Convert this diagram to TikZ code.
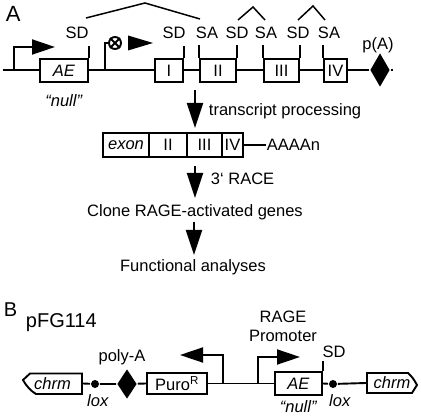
\documentclass[tikz,border=0pt]{standalone}
\usepackage{fontspec}
\setmainfont{Liberation Sans}
\usetikzlibrary{shapes.geometric,arrows.meta}
\newcommand\fsz{\fontsize{16.5}{19}\selectfont}
\begin{document}
\begin{tikzpicture}[x=1pt,y=-1pt,line width=1.9pt,
  every node/.style={font=\fsz,inner sep=0pt},
  box/.style={draw,fill=white,minimum height=23pt},
  dtip/.style={-{Triangle[length=25pt,width=16pt]}},
  ptip/.style={-{Triangle[length=23pt,width=15pt]}},
  dot/.style={circle,fill,minimum size=8pt},
  big/.style={font=\fontsize{22}{24}\selectfont}]
\useasboundingbox (0,0) rectangle (421,419);
% ---------- Panel A ----------
\node[big,anchor=base west] (lblA) at (5,22) {A};
\coordinate (m0) at (3,70);
\coordinate (mEnd) at (393,70);
\coordinate (p1) at (14,70);
\coordinate (p2) at (105,70);
\node[box,minimum width=48pt] (AE) at (64,70.5) {\textit{AE}};
\node[box,minimum width=28pt] (eI) at (169,70.5) {I};
\node[box,minimum width=36pt] (eII) at (218,70.5) {II};
\node[box,minimum width=35pt] (eIII) at (281.5,70.5) {III};
\node[box,minimum width=23pt] (eIV) at (335.5,70.5) {IV};
\node[diamond,fill,minimum width=20pt,minimum height=34pt] (pA) at (380,70) {};
\draw (m0) -- (AE.west |- m0);
\draw (AE.east |- m0) -- (eI.west |- m0);
\draw (eI.east |- m0) -- (eII.west |- m0);
\draw (eII.east |- m0) -- (eIII.west |- m0);
\draw (eIII.east |- m0) -- (eIV.west |- m0);
\draw (eIV.east |- m0) -- (pA) -- (mEnd);
% splice ticks
\draw (AE.north east) -- ++(0,-12);
\draw (eI.north east) -- ++(0,-12);
\draw (eII.north west) -- ++(0,-13);
\draw (eII.north east) -- ++(0,-13);
\draw (eIII.north west) -- ++(0,-13);
\draw (eIII.north east) -- ++(0,-13);
\draw (eIV.north west) -- ++(0,-13);
% splice labels
\node[anchor=base] (sd1) at (77,39) {SD};
\node[anchor=base] (sd2) at (174,39) {SD};
\node[anchor=base] (sa2) at (207,39) {SA};
\node[anchor=base] (sd3) at (237,39) {SD};
\node[anchor=base] (sa3) at (266,39) {SA};
\node[anchor=base] (sd4) at (298,39) {SD};
\node[anchor=base] (sa4) at (329,39) {SA};
\node[anchor=base] (pAl) at (378,50) {p(A)};
% splice connectors
\draw[line width=1.5pt] (86,18) -- (145,3) -- (200,19);
\draw[line width=1.5pt] (238,20) -- (253,7) -- (265,20);
\draw[line width=1.5pt] (298,20) -- (313,6) -- (325,20);
% promoters
\draw[ptip] (p1) |- (55,47);
\node[circle,draw,minimum size=12pt] (xc) at (115,43) {};
\draw (xc.north west) -- (xc.south east);
\draw (xc.north east) -- (xc.south west);
\draw (p2) |- (xc.west);
\fill (128,35.5) -- (153,43) -- (128,50.5) -- cycle;
\node[anchor=base] (null1) at (64,107) {\textit{“null”}};
% transcript
\node[box,minimum width=46pt,minimum height=24pt] (tx) at (126,145) {\textit{exon}};
\node[box,minimum width=38pt,minimum height=24pt] (t2) at (168,145) {II};
\node[box,minimum width=35pt,minimum height=24pt] (t3) at (204.5,145) {III};
\node[box,minimum width=21pt,minimum height=24pt] (t4) at (232.5,145) {IV};
\node[anchor=west] (aaa) at (266,145) {AAAAn};
\draw (t4) -- (aaa);
\coordinate (ax) at (195,0);
\coordinate (a1s) at (195,90);
\draw[dtip] (a1s) -- (195,128);
\node[anchor=base west] (tp) at (208,116) {transcript processing};
\draw[dtip,shorten <=8pt] (t3.south -| ax) -- (195,198);
\node[anchor=base west] (race) at (210,185) {3‘ RACE};
\node[anchor=base] (clone) at (195,217) {Clone RAGE-activated genes};
\draw[dtip] (194,222) -- (194,255);
\node[anchor=base] (func) at (193,272) {Functional analyses};
% ---------- Panel B ----------
\node[font=\fontsize{20}{22}\selectfont,anchor=base west] (lblB) at (3,317) {B};
\node[font=\fontsize{20}{22}\selectfont,anchor=base west] (pfg) at (25,328) {pFG114};
\draw (82,373.5) -- (30,373.5) -- (23,380) .. controls (27,387) and (31,391) .. (36,394) -- (82,394) -- cycle;
\node[minimum width=59pt,minimum height=21pt] (chrmL) at (52.5,383.5) {\textit{chrm}};
\draw (367,373) -- (408,373) .. controls (413,378) .. (417,385) -- (412,393) -- (367,393) -- cycle;
\node[minimum width=50pt,minimum height=20pt] (chrmR) at (392,383) {\textit{chrm}};
\node[dot] (lox1) at (95,384) {};
\node[diamond,fill,minimum width=20pt,minimum height=30pt] (pa2) at (127,384) {};
\node[box,minimum width=60pt,minimum height=21pt] (puro) at (177,383.5) {Puro\textsuperscript{R}};
\coordinate (rp) at (223,384);
\coordinate (fp) at (258,384);
\node[box,minimum width=47pt,minimum height=23pt] (AE2) at (298.5,383.5) {\textit{AE}};
\node[dot] (lox2) at (333,384) {};
\draw (chrmL.east) -- (lox1) -- (pa2) -- (puro.west);
\draw (puro.east) -- (AE2.west);
\draw (AE2.east) -- (lox2) -- (chrmR.west);
\draw[ptip] (rp) |- (180,355);
\draw[ptip] (fp) |- (300,357);
\draw (AE2.north east) -- ++(0,-10);
\node[anchor=base] (polyl) at (122,362) {poly-A};
\node[anchor=base] (ragel) at (283,323) {RAGE};
\node[anchor=base] (proml) at (283,342) {Promoter};
\node[anchor=base] (sdB) at (334,358) {SD};
\node[anchor=base] (loxl1) at (98,407) {\textit{lox}};
\node[anchor=base] (loxl2) at (340,407) {\textit{lox}};
\node[anchor=base] (null2) at (298.5,413) {\textit{“null”}};
\end{tikzpicture}
\end{document}
